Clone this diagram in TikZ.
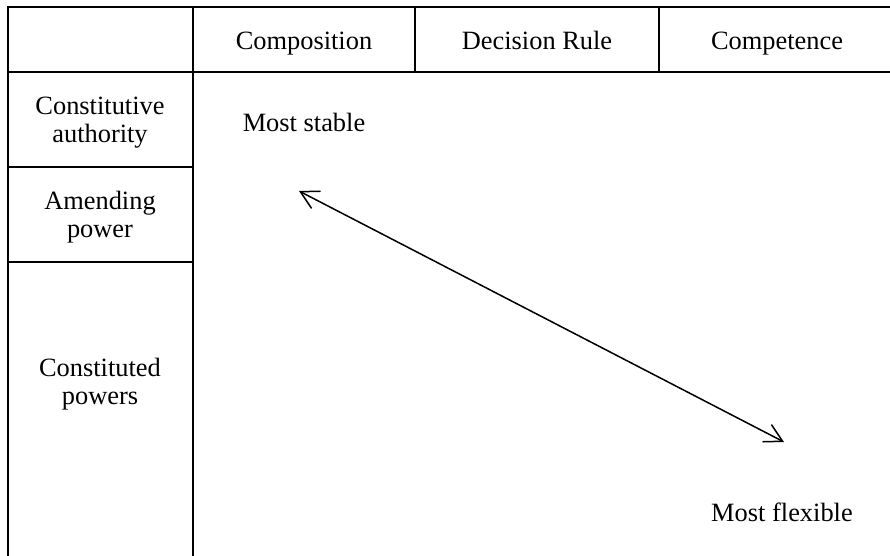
\documentclass[tikz,border=0pt]{standalone}
\usepackage{fontspec}
\setmainfont{Liberation Serif}
\usetikzlibrary{arrows.meta, positioning}
\definecolor{tabLine}{HTML}{000000}
\tikzset{
  gridLine/.style={draw=tabLine, line width=1pt},
  arrowB/.style={{Straight Barb[length=3.1mm, width=3.4mm]}-{Straight Barb[length=3.1mm, width=3.4mm]},
                 line width=0.75pt},
  headCell/.style={anchor=base, inner sep=0pt, font=\fontsize{13.2}{14.5}\selectfont},
  rowLabel/.style={align=center, inner sep=0pt, font=\fontsize{13.2}{14}\selectfont},
  noteText/.style={inner sep=0pt, font=\fontsize{13.2}{14.5}\selectfont},
}
\begin{document}
\begin{tikzpicture}[x=0.5pt, y=-0.5pt]
  \useasboundingbox (0,0) rectangle (890,556);
  % table lines
  \draw[gridLine] (890,7) -- (8,7) -- (8,556);
  \draw[gridLine] (8,72) -- (890,72);
  \draw[gridLine] (193,7) -- (193,556);
  \draw[gridLine] (415,7) -- (415,72);
  \draw[gridLine] (659,7) -- (659,72);
  \draw[gridLine] (8,167) -- (193,167);
  \draw[gridLine] (8,262) -- (193,262);
  % header
  \node[headCell] (comp) at (304,50) {Composition};
  \node[headCell] (rule) at (537,50) {Decision Rule};
  \node[headCell] (cmpt) at (777,50) {Competence};
  % rows
  \node[rowLabel] (auth) at (100,123) {Constitutive\\authority};
  \node[rowLabel] (amend) at (100,217) {Amending\\power};
  \node[rowLabel] (cons) at (100,384) {Constituted\\powers};
  % scale
  \node[noteText] (stable) at (304,122) {Most stable};
  \node[noteText] (flex) at (782,512) {Most flexible};
  \coordinate (stableEnd) at (299,191);
  \coordinate (flexEnd) at (784,442);
  \draw[arrowB] (stableEnd) -- (flexEnd);
\end{tikzpicture}
\end{document}
